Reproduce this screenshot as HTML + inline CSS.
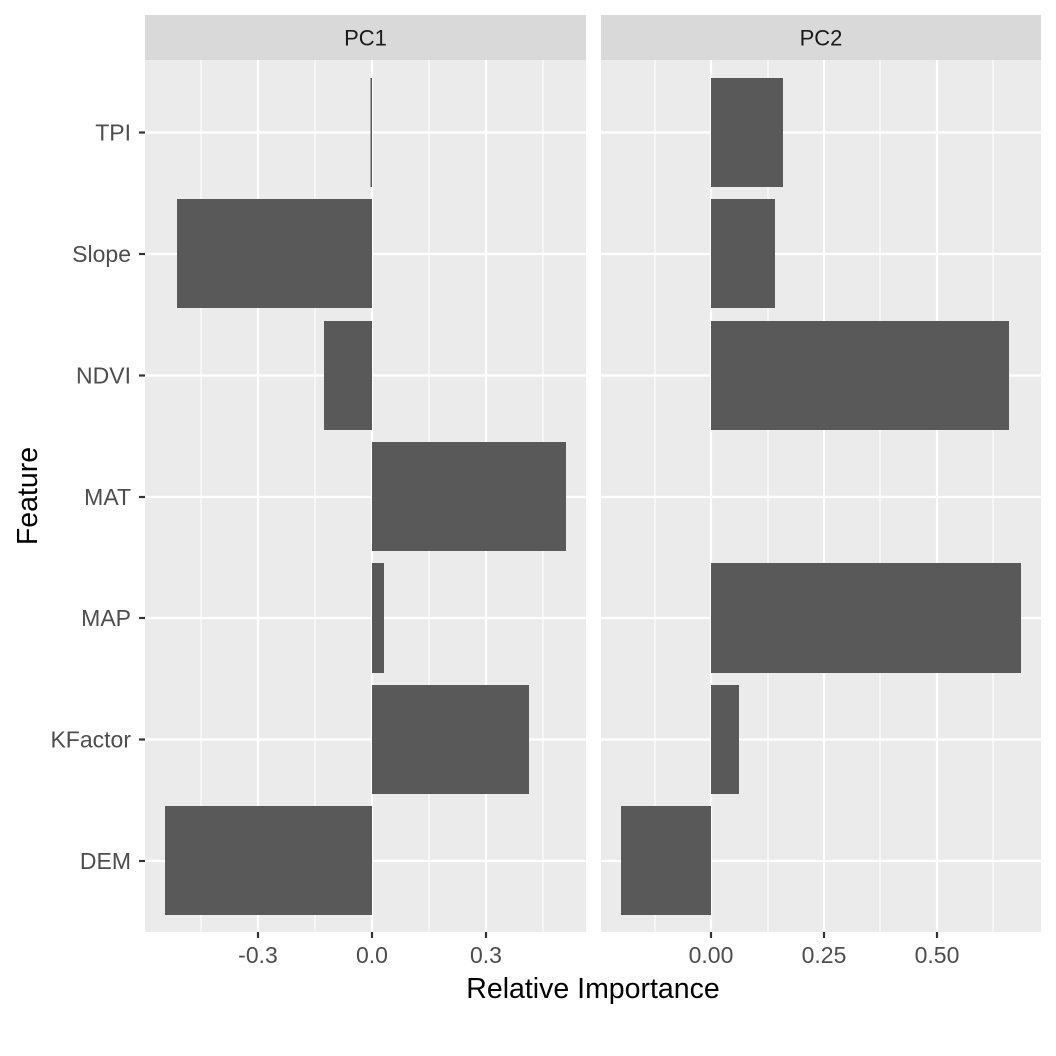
<!DOCTYPE html>
<html><head><meta charset="utf-8"><style>body{margin:0;background:#fff}svg{display:block}</style></head><body>
<svg width="1056" height="1056" viewBox="0 0 1056 1056" xmlns="http://www.w3.org/2000/svg" font-family="Liberation Sans, sans-serif">
<rect width="1056" height="1056" fill="#fff"/>
<rect x="145" y="15" width="441" height="45" fill="#d9d9d9"/>
<rect x="601" y="15" width="440" height="45" fill="#d9d9d9"/>
<text x="365.5" y="45.5" font-size="22" fill="#1a1a1a" text-anchor="middle">PC1</text>
<text x="821" y="45.5" font-size="22" fill="#1a1a1a" text-anchor="middle">PC2</text>
<rect x="145" y="60" width="441" height="872" fill="#ebebeb"/>
<rect x="601" y="60" width="440" height="872" fill="#ebebeb"/>
<g stroke="#fff" stroke-width="1.1">
<line x1="201" y1="60" x2="201" y2="932"/><line x1="315" y1="60" x2="315" y2="932"/><line x1="429" y1="60" x2="429" y2="932"/><line x1="543" y1="60" x2="543" y2="932"/>
<line x1="655" y1="60" x2="655" y2="932"/><line x1="768" y1="60" x2="768" y2="932"/><line x1="880" y1="60" x2="880" y2="932"/><line x1="993" y1="60" x2="993" y2="932"/>
</g>
<g stroke="#fff" stroke-width="2.2">
<line x1="258" y1="60" x2="258" y2="932"/><line x1="372" y1="60" x2="372" y2="932"/><line x1="486" y1="60" x2="486" y2="932"/>
<line x1="711" y1="60" x2="711" y2="932"/><line x1="824" y1="60" x2="824" y2="932"/><line x1="937" y1="60" x2="937" y2="932"/>
<line x1="145" y1="132.5" x2="586" y2="132.5"/><line x1="145" y1="254" x2="586" y2="254"/><line x1="145" y1="375.5" x2="586" y2="375.5"/><line x1="145" y1="497" x2="586" y2="497"/><line x1="145" y1="618" x2="586" y2="618"/><line x1="145" y1="739.5" x2="586" y2="739.5"/><line x1="145" y1="861" x2="586" y2="861"/>
<line x1="601" y1="132.5" x2="1041" y2="132.5"/><line x1="601" y1="254" x2="1041" y2="254"/><line x1="601" y1="375.5" x2="1041" y2="375.5"/><line x1="601" y1="497" x2="1041" y2="497"/><line x1="601" y1="618" x2="1041" y2="618"/><line x1="601" y1="739.5" x2="1041" y2="739.5"/><line x1="601" y1="861" x2="1041" y2="861"/>
</g>
<g fill="#595959">
<rect x="370.5" y="78" width="1.5" height="109"/>
<rect x="177" y="199" width="195" height="109"/>
<rect x="324" y="321" width="48" height="109"/>
<rect x="372" y="442" width="194" height="109"/>
<rect x="372" y="563" width="12" height="110"/>
<rect x="372" y="685" width="157" height="109"/>
<rect x="165" y="806" width="207" height="109"/>
<rect x="711" y="78" width="72" height="109"/>
<rect x="711" y="199" width="64" height="109"/>
<rect x="711" y="321" width="298" height="109"/>
<rect x="711" y="563" width="310" height="110"/>
<rect x="711" y="685" width="28" height="109"/>
<rect x="621" y="806" width="90" height="109"/>
</g>
<g stroke="#333" stroke-width="2.2">
<line x1="139" y1="132.5" x2="145" y2="132.5"/><line x1="139" y1="254" x2="145" y2="254"/><line x1="139" y1="375.5" x2="145" y2="375.5"/><line x1="139" y1="497" x2="145" y2="497"/><line x1="139" y1="618" x2="145" y2="618"/><line x1="139" y1="739.5" x2="145" y2="739.5"/><line x1="139" y1="861" x2="145" y2="861"/>
<line x1="258" y1="932" x2="258" y2="938"/><line x1="372" y1="932" x2="372" y2="938"/><line x1="486" y1="932" x2="486" y2="938"/>
<line x1="711" y1="932" x2="711" y2="938"/><line x1="824" y1="932" x2="824" y2="938"/><line x1="937" y1="932" x2="937" y2="938"/>
</g>
<g font-size="23" fill="#4d4d4d" text-anchor="end">
<text x="131" y="140.5">TPI</text><text x="131" y="262">Slope</text><text x="131" y="383.5">NDVI</text><text x="131" y="505">MAT</text><text x="131" y="626">MAP</text><text x="131" y="747.5">KFactor</text><text x="131" y="869">DEM</text>
</g>
<g font-size="23" fill="#4d4d4d" text-anchor="middle">
<text x="258" y="963">-0.3</text><text x="372" y="963">0.0</text><text x="486" y="963">0.3</text>
<text x="711" y="963">0.00</text><text x="824" y="963">0.25</text><text x="937" y="963">0.50</text>
</g>
<text x="593" y="998" font-size="28.5" fill="#000" text-anchor="middle">Relative Importance</text>
<text transform="translate(37,496) rotate(-90)" font-size="28.5" fill="#000" text-anchor="middle">Feature</text>
</svg>
</body></html>
